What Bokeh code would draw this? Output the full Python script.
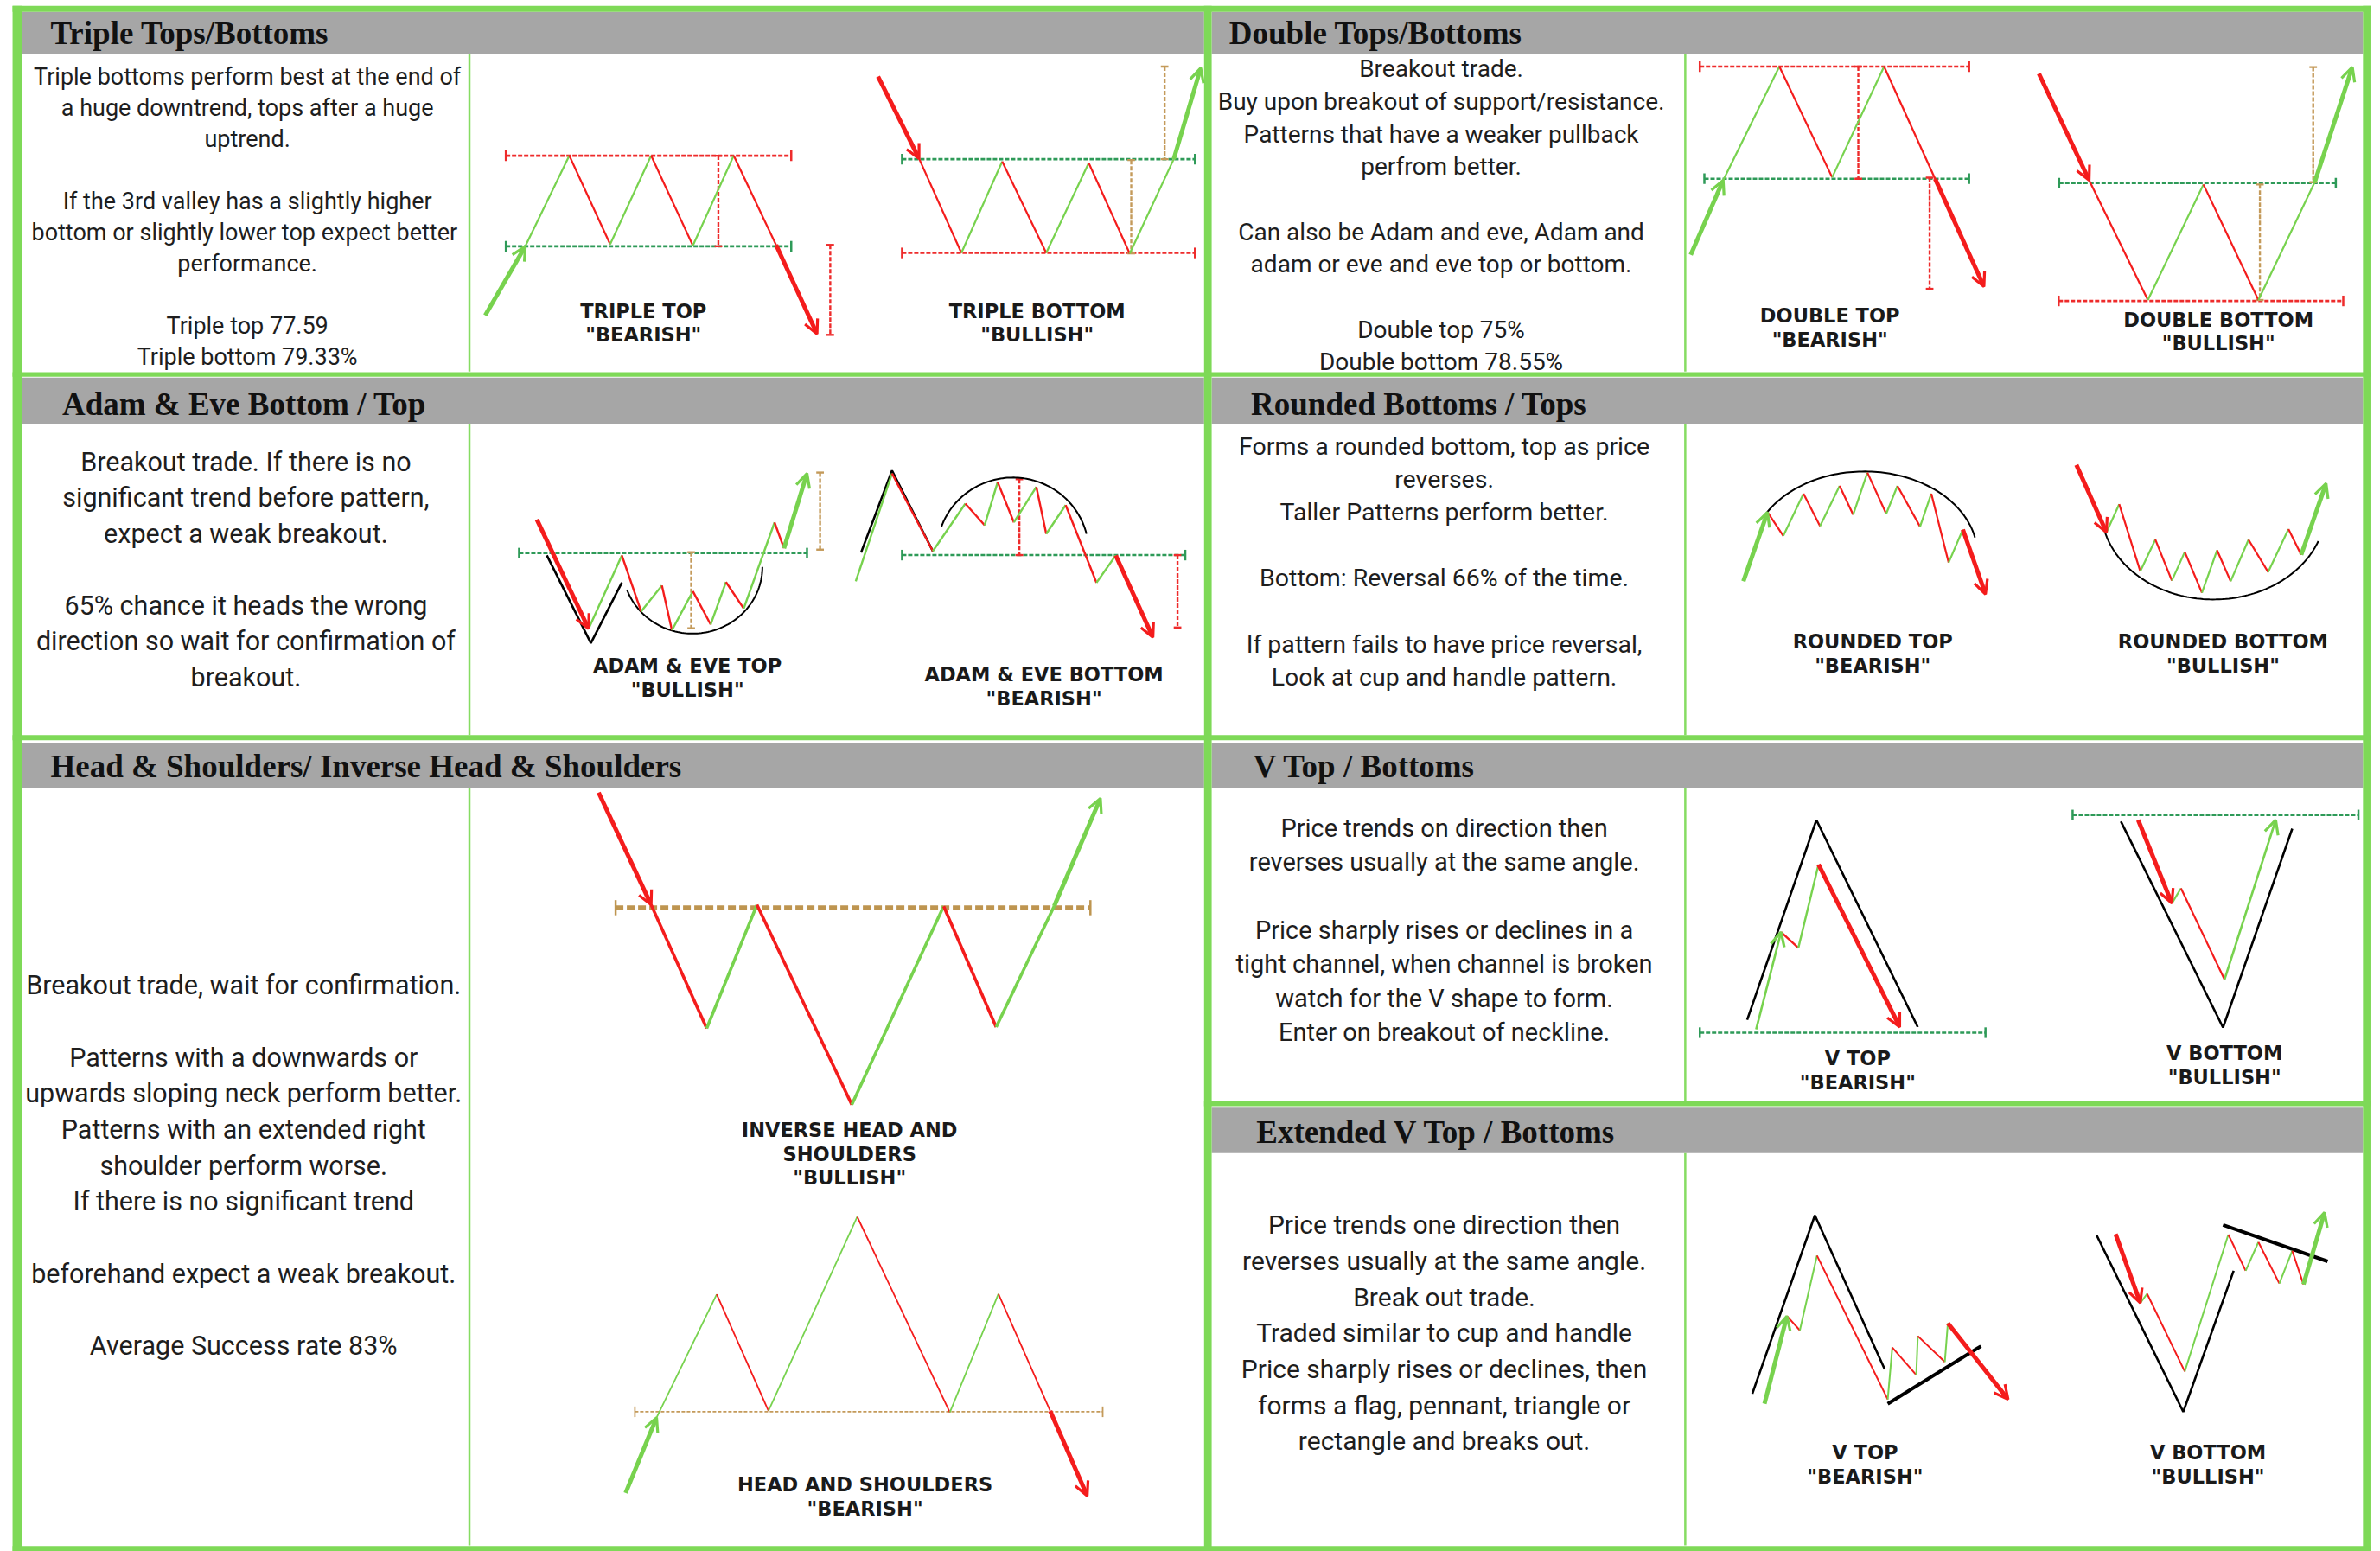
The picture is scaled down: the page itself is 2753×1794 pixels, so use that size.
import numpy as np
from bokeh.plotting import figure
from bokeh.models import Range1d, Arrow, OpenHead
from bokeh.core.properties import value
from bokeh.embed import file_html
from bokeh.resources import INLINE

# ---------------------------------------------------------------------------
# DATA  (all coordinates are in a 1568 x 1024 layout space of the reference)
# ---------------------------------------------------------------------------
titles = ["Triple Tops/Bottoms", "Double  Tops/Bottoms", "Adam & Eve Bottom / Top",
          "Rounded Bottoms / Tops", "Head & Shoulders/ Inverse Head & Shoulders",
          "V Top / Bottoms", "Extended V Top / Bottoms"]
title_x = [33, 809.5, 40.7, 823.9, 33, 825.4, 827.4]
title_y = [21.5, 21.5, 266.5, 266.5, 506, 506, 747]

notes_triple = ["Triple bottoms perform best at the end of", "a huge downtrend, tops after a huge",
                "uptrend.", "", "If the 3rd valley has a slightly higher",
                "bottom or slightly lower top expect  better", "performance.", "",
                "Triple top 77.59", "Triple bottom 79.33%"]
notes_double = ["Breakout trade.", "Buy upon breakout of support/resistance.",
                "Patterns that have a weaker pullback", "perfrom better.", "",
                "Can also be Adam and eve, Adam and", "adam or eve and eve top or bottom.", "",
                "Double top 75%", "Double bottom 78.55%"]
notes_adam = ["Breakout trade. If there is no", "significant trend before pattern,",
              "expect a weak breakout.", "", "65% chance it heads the wrong",
              "direction so wait for confirmation of", "breakout."]
notes_round = ["Forms a rounded bottom, top as price", "reverses.", "Taller Patterns perform better.", "",
               "Bottom: Reversal 66% of the time.", "", "If pattern fails to have price reversal,",
               "Look at cup and handle pattern."]
notes_hs = ["Breakout trade, wait for confirmation.", "", "Patterns with a downwards or",
            "upwards sloping neck perform better.", "Patterns with an extended right",
            "shoulder perform worse.", "If there is no significant trend", "",
            "beforehand expect a weak breakout.", "", "Average Success rate 83%"]
notes_v = ["Price trends on direction then", "reverses usually at the same angle.", "",
           "Price sharply rises or declines in a", "tight channel, when channel is broken",
           "watch for the V shape to form.", "Enter on breakout of neckline."]
notes_ext = ["Price trends one direction then", "reverses usually at the same angle.",
             "Break out trade.", "Traded similar to cup and handle",
             "Price sharply rises or declines, then", "forms a flag, pennant, triangle or",
             "rectangle and breaks out."]

label_line1 = ["TRIPLE TOP", "TRIPLE BOTTOM", "DOUBLE TOP", "DOUBLE BOTTOM", "ADAM & EVE TOP",
               "ADAM & EVE BOTTOM", "ROUNDED TOP", "ROUNDED BOTTOM", "INVERSE HEAD AND",
               "HEAD AND SHOULDERS", "V TOP", "V BOTTOM", "V TOP", "V BOTTOM"]
label_line2 = ['"BEARISH"', '"BULLISH"', '"BEARISH"', '"BULLISH"', '"BULLISH"', '"BEARISH"',
               '"BEARISH"', '"BULLISH"', "SHOULDERS", '"BEARISH"', '"BEARISH"', '"BULLISH"',
               '"BEARISH"', '"BULLISH"']
label_line3 = ["", "", "", "", "", "", "", "", '"BULLISH"', "", "", "", "", ""]

# price zig-zags (vertex lists); up-moves are green, down-moves red
triple_top_x = [345.8, 374.8, 401.7, 428.7, 456.2, 483.1, 511.0]
triple_top_y = [162.3, 102.5, 161.0, 102.5, 161.8, 102.5, 161.4]
triple_bottom_x = [605.2, 633.1, 660.0, 689.0, 717.0, 744.0, 773.0]
triple_bottom_y = [104.4, 166.7, 106.3, 166.7, 107.3, 167.1, 104.8]
double_top_x = [1135.0, 1172.0, 1206.8, 1241.0, 1274.6]
double_top_y = [118.7, 43.7, 116.8, 43.7, 117.7]
double_bottom_x = [1376.1, 1414.8, 1451.4, 1487.6, 1524.7]
double_bottom_y = [118.7, 197.8, 121.5, 197.8, 120.0]
ae_top_x = [387.5, 409.4, 422.1, 435.8, 442.4, 456.2, 467.9, 478.0, 489.7, 510.0, 516.2]
ae_top_y = [414.8, 366.4, 403.4, 386.3, 415.8, 390.1, 412.0, 384.0, 401.5, 344.6, 361.7]
ae_bot_x = [563.5, 587.4, 614.3, 635.7, 648.4, 657.0, 667.7, 682.5, 689.0, 701.8, 722.1, 734.8]
ae_bot_y = [383.5, 312.3, 363.6, 332.2, 346.5, 318.0, 344.6, 321.2, 352.2, 333.2, 384.4, 366.4]
rnd_top_x = [1164.2, 1174.6, 1187.9, 1198.8, 1211.7, 1220.6, 1230.0, 1242.4, 1249.8, 1264.7, 1272.1, 1283.5, 1292.9]
rnd_top_y = [337.9, 353.5, 325.6, 347.0, 320.5, 339.5, 311.7, 338.9, 320.5, 347.4, 325.6, 371.2, 349.3]
rnd_bot_x = [1387.5, 1395.9, 1409.8, 1419.7, 1430.6, 1439.1, 1450.4, 1460.4, 1469.3, 1481.1, 1494.0, 1507.4, 1515.8]
rnd_bot_y = [351.2, 332.6, 376.9, 356.0, 383.1, 364.1, 391.1, 363.0, 383.5, 356.0, 377.4, 349.0, 366.0]
inv_hs_x = [428.7, 465.3, 498.4, 560.9, 621.4, 656.0, 694.2]
inv_hs_y = [597.1, 678.7, 597.1, 729.0, 598.0, 677.8, 598.0]
hs_x = [432.3, 471.9, 506.0, 564.5, 625.5, 657.5, 691.6]
hs_y = [935.6, 854.3, 931.2, 803.1, 932.2, 854.0, 931.2]
v_top_x = [1173.1, 1184.5, 1197.8]
v_top_y = [615.1, 625.5, 570.5]
v_bot_x = [1430.6, 1436.6, 1465.3]
v_bot_y = [596.1, 586.2, 646.4]
ev_top_x = [1177.0, 1185.5, 1196.8, 1243.4, 1246.4, 1262.2, 1263.2, 1281.0, 1283.0]
ev_top_y = [868.6, 878.0, 828.7, 923.6, 889.4, 907.5, 881.8, 898.9, 873.3]
ev_bot_x = [1409.8, 1414.3, 1439.1, 1467.8, 1479.2, 1487.6, 1501.4, 1509.9, 1517.3]
ev_bot_y = [860.0, 853.9, 905.2, 814.8, 838.7, 819.8, 847.1, 825.5, 847.7]

# trend arrows (start -> end)
arrow_x0 = [319.4, 511.0, 578.2, 773.0, 1113.6, 1274.6, 1343.0, 1524.7, 353.4, 516.2, 734.8,
            1148.3, 1292.9, 1367.7, 1515.8, 394.1, 694.2, 411.9, 691.6, 1156.7, 1197.8,
            1408.4, 1465.3, 1162.2, 1283.0, 1393.5, 1517.3]
arrow_y0 = [207.9, 161.4, 50.3, 104.8, 168.0, 117.7, 48.4, 120.0, 342.7, 361.7, 366.4,
            383.5, 349.3, 306.6, 366.0, 523.0, 598.0, 985.4, 931.2, 679.3, 570.5,
            541.1, 646.4, 926.5, 873.3, 814.4, 847.7]
arrow_x1 = [345.8, 538.0, 605.2, 790.8, 1135.0, 1306.8, 1376.1, 1549.5, 387.5, 531.4, 759.3,
            1164.2, 1307.8, 1387.5, 1532.2, 428.7, 724.7, 432.3, 716.0, 1173.1, 1251.3,
            1430.6, 1499.0, 1177.0, 1322.7, 1409.8, 1531.2]
arrow_y1 = [162.3, 220.2, 104.4, 44.6, 118.7, 188.9, 118.7, 44.0, 414.8, 312.3, 420.5,
            337.9, 392.0, 351.2, 318.9, 597.1, 526.8, 935.6, 987.3, 615.1, 677.8,
            596.1, 541.1, 868.6, 923.6, 860.0, 800.2]
arrow_thin = [19, 22]   # indices of the thin arrows in the V-pattern panel

# black channel / "Adam" outlines
black_x = [[360.0, 389.0, 409.4], [567.0, 587.4, 614.3], [1150.8, 1196.4, 1263.2],
           [1397.0, 1464.3, 1509.9], [1154.2, 1195.4, 1241.4], [1381.1, 1438.1, 1471.3]]
black_y = [[366.4, 424.3, 384.4], [364.5, 310.4, 363.6], [673.0, 541.1, 677.8],
           [542.0, 678.1, 546.8], [919.8, 802.1, 903.7], [815.4, 931.8, 838.7]]
flag_x0 = [1243.4, 1464.3]
flag_y0 = [926.5, 808.4]
flag_x1 = [1304.8, 1533.2]
flag_y1 = [888.5, 832.5]

# rounded arcs: centre x, centre y, radius x, radius y, start deg, end deg
arc_cx = [456.0, 667.0, 1228.0, 1458.0]
arc_cy = [374.0, 364.0, 366.0, 335.5]
arc_rx = [46.0, 50.0, 74.5, 74.0]
arc_ry = [44.0, 49.0, 55.0, 60.0]
arc_a0 = [200, 14, 12, 192]
arc_a1 = [360, 160, 153, 339]

# support / resistance levels (x from, x to, price level, kind)
lvl_x0 = [333, 333, 594, 594, 1119.6, 1122.6, 1356.3, 1356, 341.7, 594, 405.3, 418, 1119.6, 1365.2]
lvl_x1 = [521, 521, 787, 787, 1297, 1297, 1538.6, 1543.5, 531.4, 780.6, 718.1, 726.2, 1307.8, 1553.5]
lvl_y = [102.5, 162.3, 104.8, 166.7, 43.7, 117.7, 120.6, 198.4, 364.9, 366.2, 599.0, 931.8, 681.5, 537.8]
lvl_kind = ["r", "g", "g", "r", "r", "g", "g", "r", "g", "g", "T", "t", "g", "g"]

# target measurements (x, from level, to level, kind)
msr_x = [473, 546.7, 745, 767, 1224, 1271, 1488.6, 1523.7, 455.1, 540, 671.3, 775.5]
msr_y0 = [102.5, 161.4, 105.4, 43.7, 43.7, 117.0, 121.5, 44.0, 364.3, 311.7, 316.1, 366.2]
msr_y1 = [162.3, 220.8, 167.0, 104.8, 117.7, 190.4, 197.8, 120.0, 414.5, 362.6, 366.2, 414.0]
msr_kind = ["r", "r", "t", "t", "r", "r", "t", "t", "t", "t", "r", "r"]

# ---------------------------------------------------------------------------
# LAYOUT / STYLE
# ---------------------------------------------------------------------------
W, H = 2753, 1794
LW, LH = 1568, 1024
FRAME = "#7ED957"
GRAY = "#A6A6A6"
UP = "#77D24E"
DOWN = "#F41C1C"
KCOL = {"g": "#2E9A58", "r": "#EE2B2B", "t": "#C49A5A", "T": "#BE9550"}
TXT = "#1E1E1E"

p = figure(width=W, height=H, output_backend="svg", toolbar_location=None,
           x_range=Range1d(0, LW), y_range=Range1d(LH, 0), min_border=0)
p.axis.visible = False
p.grid.visible = False
p.outline_line_color = None
p.background_fill_color = "white"
p.border_fill_color = "white"

# header bands
p.quad(left=[14.5, 798, 14.5, 798, 14.5, 798, 798], right=[793, 1556.5, 793, 1556.5, 793, 1556.5, 1556.5],
       top=[7.5, 7.5, 249, 249, 490, 490, 731], bottom=[35.5, 35.5, 280, 280, 520, 520, 761],
       fill_color=GRAY, line_color=None)

# thin column dividers
p.segment(x0=[309, 309, 309, 1110, 1110, 1110, 1110], x1=[309, 309, 309, 1110, 1110, 1110, 1110],
          y0=[35.5, 280, 520, 35.5, 280, 520, 761], y1=[245, 485, 1020, 245, 485, 726.5, 1020],
          line_color="#86DC62", line_width=2.5)

# levels
for x0, x1, y, k in zip(lvl_x0, lvl_x1, lvl_y, lvl_kind):
    w = 5.5 if k == "T" else (1.8 if k == "t" else 2.6)
    dash = "9 4" if k == "T" else ("4 2" if k == "t" else "5 2")
    cap = 5 if k == "T" else 3.5
    p.segment(x0=[x0], y0=[y], x1=[x1], y1=[y], line_color=KCOL[k], line_width=w, line_dash=dash)
    p.segment(x0=[x0, x1], y0=[y - cap, y - cap], x1=[x0, x1], y1=[y + cap, y + cap],
              line_color=KCOL[k], line_width=min(w, 2.5))

for x, y0, y1, k in zip(msr_x, msr_y0, msr_y1, msr_kind):
    p.segment(x0=[x], y0=[y0], x1=[x], y1=[y1], line_color=KCOL[k], line_width=2.4, line_dash="5 2")
    p.segment(x0=[x - 2.5, x - 2.5], y0=[y0, y1], x1=[x + 2.5, x + 2.5], y1=[y0, y1],
              line_color=KCOL[k], line_width=2.4)

# black outlines
for bx, by in zip(black_x, black_y):
    p.line(bx, by, line_color="black", line_width=2.6)
p.segment(x0=flag_x0, y0=flag_y0, x1=flag_x1, y1=flag_y1, line_color="black", line_width=4)

# arcs
for cx, cy, rx, ry, a0, a1 in zip(arc_cx, arc_cy, arc_rx, arc_ry, arc_a0, arc_a1):
    t = np.radians(np.linspace(a0, a1, 90))
    p.line(cx + rx * np.cos(t), cy - ry * np.sin(t), line_color="black", line_width=2)

# zig-zags
zigs = [(triple_top_x, triple_top_y, 2.2), (triple_bottom_x, triple_bottom_y, 2.2),
        (double_top_x, double_top_y, 2.2), (double_bottom_x, double_bottom_y, 2.2),
        (ae_top_x, ae_top_y, 2.4), (ae_bot_x, ae_bot_y, 2.4),
        (rnd_top_x, rnd_top_y, 2.2), (rnd_bot_x, rnd_bot_y, 2.2),
        (inv_hs_x, inv_hs_y, 3.6), (hs_x, hs_y, 1.8),
        (v_top_x, v_top_y, 2.4), (v_bot_x, v_bot_y, 2.2),
        (ev_top_x, ev_top_y, 2.0), (ev_bot_x, ev_bot_y, 2.0)]
for xs, ys, w in zigs:
    cols = [UP if b < a else DOWN for a, b in zip(ys[:-1], ys[1:])]
    p.segment(x0=xs[:-1], y0=ys[:-1], x1=xs[1:], y1=ys[1:], line_color=cols, line_width=w)

# arrows
for i, (x0, y0, x1, y1) in enumerate(zip(arrow_x0, arrow_y0, arrow_x1, arrow_y1)):
    c = UP if y1 < y0 else DOWN
    w = 2.6 if i in arrow_thin else 5
    p.add_layout(Arrow(x_start=x0, y_start=y0, x_end=x1, y_end=y1, line_color=c, line_width=w,
                       end=OpenHead(size=16, line_color=c, line_width=3.2)))

# titles
p.text(x=title_x, y=title_y, text=titles, text_font=value("Liberation Serif"), text_font_style="bold",
       text_font_size=value("37px"), text_align="left", text_baseline="middle", text_color="#111111")

# notes
note_blocks = [(notes_triple, 162.7, 50.3, 20.6, "27px"), (notes_double, 949.2, 45.2, 21.5, "28px"),
               (notes_adam, 161.7, 304.7, 23.7, "30.5px"), (notes_round, 951.2, 294.3, 21.8, "28.5px"),
               (notes_hs, 160.2, 650.2, 23.8, "30.5px"), (notes_v, 951.2, 546.4, 22.5, "29px"),
               (notes_ext, 951.2, 808.4, 23.8, "30px")]
for lines, cx, y0, dy, fs in note_blocks:
    ys = [y0 + i * dy for i, s in enumerate(lines) if s]
    tx = [s for s in lines if s]
    p.text(x=[cx] * len(tx), y=ys, text=tx, text_font=value("Roboto"), text_font_size=value(fs),
           text_align="center", text_baseline="middle", text_color=TXT)

# pattern labels
lab_x = [423.6, 683, 1205.3, 1461.3, 452.6, 687.5, 1233.5, 1464.3, 559.4, 569.6, 1223.6, 1465.3, 1228.5, 1454.4]
lab_y = [205, 205, 208.3, 210.7, 439.5, 445.2, 423.4, 423.4, 745.7, 979.7, 698.6, 695.2, 958.7, 958.7]
LD = 15.8
for k, lines in enumerate((label_line1, label_line2, label_line3)):
    idx = [i for i, s in enumerate(lines) if s]
    p.text(x=[lab_x[i] for i in idx], y=[lab_y[i] + k * LD for i in idx], text=[lines[i] for i in idx],
           text_font=value("DejaVu Sans"), text_font_style="bold", text_font_size=value("22.5px"),
           text_align="center", text_baseline="middle", text_color="#1A1A1A")

# green frame on top
p.quad(left=[8, 8, 1556.5, 793, 8, 8, 793, 8], right=[14.5, 1562, 1562, 798, 1562, 1562, 1562, 1562],
       top=[3.5, 3.5, 3.5, 3.5, 245.5, 485, 726.5, 1020.5],
       bottom=[1024, 7.5, 1024, 1024, 248.5, 488.5, 730, 1024],
       fill_color=FRAME, line_color=None)

open("out.html", "w").write(file_html(p, INLINE))
